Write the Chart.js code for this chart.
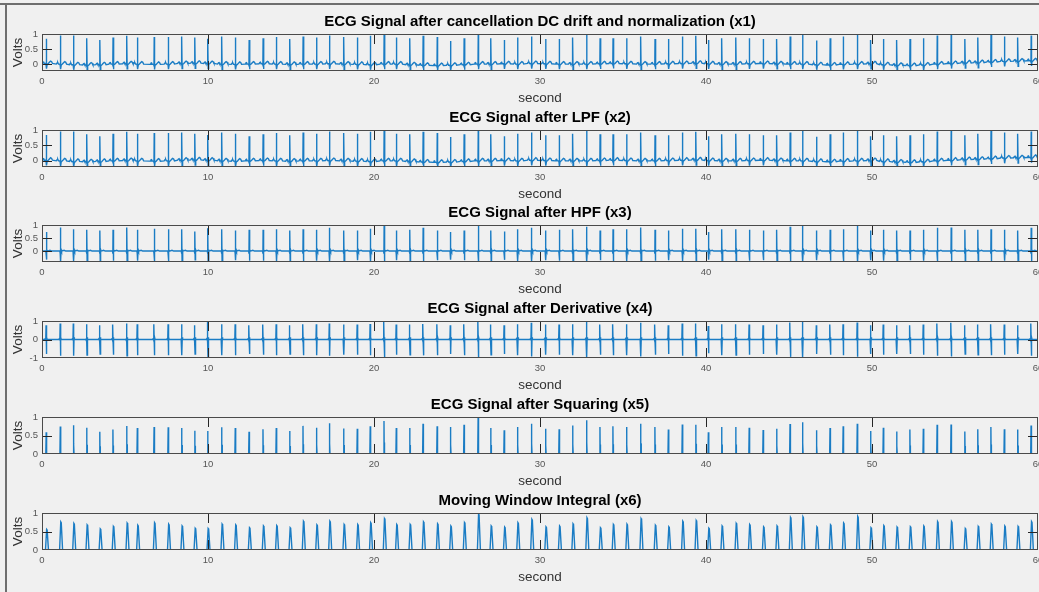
<!DOCTYPE html>
<html>
<head>
<meta charset="utf-8">
<title>ECG processing stages</title>
<script src="https://cdn.jsdelivr.net/npm/chart.js@4.4.1/dist/chart.umd.min.js"></script>
<style>
  html, body { margin: 0; padding: 0; width: 1039px; height: 592px; overflow: hidden; background: #f0f0f0; }
  .frame-top { position: absolute; left: 0; top: 3px; width: 1039px; height: 2px; background: #6e6e6e; }
  .frame-left { position: absolute; left: 5px; top: 3px; width: 2px; height: 589px; background: #6e6e6e; }
  canvas.panel { position: absolute; left: 0; }
</style>
</head>
<body>
<div class="frame-top"></div>
<div class="frame-left"></div>
<canvas id="p0" class="panel" width="1039" height="100"></canvas>
<canvas id="p1" class="panel" width="1039" height="100"></canvas>
<canvas id="p2" class="panel" width="1039" height="100"></canvas>
<canvas id="p3" class="panel" width="1039" height="100"></canvas>
<canvas id="p4" class="panel" width="1039" height="100"></canvas>
<canvas id="p5" class="panel" width="1039" height="100"></canvas>
<script>
// R-peak instants (s) of the 60 s recording
const beatTimes = [
  0.26, 1.11, 1.90, 2.70, 3.49, 4.28, 5.11, 5.75, 6.76, 7.61, 8.42, 9.21, 9.99, 10.83, 11.65, 12.48, 13.32, 14.12, 14.93,
  15.73, 16.54, 17.32, 18.18, 19.00, 19.78, 20.61, 21.35, 22.16, 22.96, 23.81, 24.61, 25.43, 26.28, 27.04, 27.85, 28.65, 29.49,
  30.34, 31.16, 31.97, 32.81, 33.62, 34.40, 35.22, 36.07, 36.93, 37.74, 38.58, 39.39, 40.15, 40.95, 41.80, 42.61, 43.45, 44.26, 45.07,
  45.82, 46.66, 47.48, 48.27, 49.12, 49.92, 50.69, 51.49, 52.29, 53.10, 53.93, 54.77, 55.60, 56.38, 57.17, 57.98, 58.78, 59.59
];

// R amplitude after DC removal + normalization (x1); the LPF output (x2) keeps the same peaks
const rPeakX1 = [
  0.84, 0.95, 0.95, 0.86, 0.80, 0.88, 0.94, 0.88, 0.90, 0.90, 0.92, 0.88, 0.84, 0.92, 0.88, 0.80, 0.86, 0.90, 0.83,
  0.92, 0.88, 0.95, 0.90, 0.88, 0.94, 0.98, 0.88, 0.86, 0.94, 0.90, 0.77, 0.86, 0.98, 0.86, 0.80, 0.88, 0.92,
  0.83, 0.83, 0.88, 0.98, 0.86, 0.86, 0.86, 0.92, 0.83, 0.83, 0.92, 0.94, 0.80, 0.86, 0.88, 0.86, 0.83, 0.83, 0.92,
  0.98, 0.78, 0.86, 0.92, 0.98, 0.80, 0.83, 0.80, 0.83, 0.86, 0.95, 0.98, 0.83, 0.88, 0.98, 0.92, 0.88, 0.95
];

// residual baseline level around each beat (x1 / x2)
const baselineX1 = [
  0.02, 0.00, -0.02, -0.03, -0.02, 0.00, 0.01, 0.00, -0.01, 0.00,
  0.02, 0.03, 0.02, 0.00, -0.01, 0.00, 0.01, 0.00, -0.01, 0.00,
  0.00, 0.01, 0.00, -0.01, -0.02, 0.00, 0.00, -0.02, -0.04, -0.05,
  -0.04, -0.02, 0.00, 0.00, 0.01, 0.00, 0.02, 0.01, 0.00, 0.00,
  0.00, 0.01, 0.02, 0.01, 0.00, 0.00, 0.01, 0.02, 0.03, 0.01,
  0.00, 0.00, 0.01, 0.02, 0.01, 0.00, 0.00, -0.02, -0.03, -0.01,
  0.00, 0.01, -0.02, -0.04, -0.05, -0.03, 0.00, 0.02, 0.04, 0.05,
  0.07, 0.09, 0.10, 0.11
];

// R amplitude after the high-pass stage (x3)
const rPeakX3 = [
  0.73, 0.90, 0.84, 0.82, 0.79, 0.82, 0.90, 0.82, 0.86, 0.84, 0.84, 0.75, 0.88, 0.84, 0.79, 0.82, 0.82, 0.84, 0.79,
  0.84, 0.82, 0.89, 0.79, 0.79, 0.86, 0.96, 0.79, 0.82, 0.89, 0.79, 0.73, 0.79, 1.00, 0.79, 0.75, 0.84, 0.89,
  0.79, 0.82, 0.84, 0.93, 0.79, 0.84, 0.84, 0.90, 0.82, 0.79, 0.86, 0.86, 0.73, 0.84, 0.84, 0.82, 0.79, 0.82, 0.93,
  0.96, 0.79, 0.82, 0.84, 0.96, 0.79, 0.82, 0.79, 0.79, 0.82, 0.89, 0.90, 0.82, 0.82, 0.84, 0.82, 0.79, 0.89
];

// slope extreme of each QRS after the derivative (x4)
const slopeX4 = [
  0.77, 0.86, 0.86, 0.83, 0.77, 0.81, 0.86, 0.83, 0.83, 0.83, 0.83, 0.77, 0.94, 0.83, 0.83, 0.77, 0.81, 0.83, 0.77,
  0.83, 0.83, 0.86, 0.81, 0.81, 0.84, 0.95, 0.81, 0.81, 0.84, 0.83, 0.77, 0.83, 1.00, 0.81, 0.77, 0.83, 0.90,
  0.81, 0.81, 0.83, 0.95, 0.81, 0.83, 0.83, 0.90, 0.81, 0.77, 0.86, 0.86, 0.73, 0.83, 0.83, 0.81, 0.77, 0.81, 0.92,
  0.95, 0.77, 0.81, 0.83, 0.92, 0.77, 0.81, 0.77, 0.77, 0.81, 0.86, 0.90, 0.77, 0.81, 0.83, 0.81, 0.77, 0.86
];

// peak of the squared signal (x5)
const peakX5 = [
  0.59, 0.74, 0.78, 0.71, 0.60, 0.66, 0.76, 0.70, 0.73, 0.72, 0.70, 0.63, 0.62, 0.72, 0.70, 0.60, 0.67, 0.70, 0.62,
  0.76, 0.71, 0.83, 0.69, 0.68, 0.75, 0.89, 0.70, 0.70, 0.82, 0.75, 0.73, 0.79, 0.99, 0.70, 0.64, 0.73, 0.82,
  0.68, 0.67, 0.77, 0.91, 0.73, 0.75, 0.73, 0.82, 0.73, 0.66, 0.80, 0.79, 0.59, 0.73, 0.73, 0.71, 0.65, 0.68, 0.81,
  0.86, 0.64, 0.70, 0.75, 0.82, 0.62, 0.71, 0.61, 0.66, 0.68, 0.79, 0.80, 0.61, 0.67, 0.73, 0.67, 0.66, 0.77
];

// peak of the moving-window integral (x6)
const peakX6 = [
  0.56, 0.76, 0.72, 0.68, 0.57, 0.64, 0.73, 0.67, 0.74, 0.70, 0.65, 0.59, 0.58, 0.70, 0.68, 0.60, 0.65, 0.66, 0.60,
  0.78, 0.68, 0.78, 0.69, 0.69, 0.74, 0.85, 0.69, 0.69, 0.76, 0.71, 0.65, 0.74, 0.98, 0.65, 0.62, 0.74, 0.83,
  0.63, 0.65, 0.71, 0.87, 0.60, 0.69, 0.70, 0.85, 0.67, 0.63, 0.78, 0.80, 0.59, 0.65, 0.72, 0.69, 0.63, 0.65, 0.88,
  0.90, 0.63, 0.68, 0.73, 0.91, 0.60, 0.66, 0.62, 0.63, 0.65, 0.77, 0.77, 0.58, 0.64, 0.70, 0.65, 0.64, 0.77
];

// beat shapes: [time offset (s), share of the beat's peak, fixed level (V)]
const shapeX1 = [[-0.25, 0, 0], [-0.2, 0, 0.04], [-0.16, 0, 0.05], [-0.12, 0, 0], [-0.04, 0, 0], [-0.015, 0, -0.04],
  [0, 1, 0], [0.02, 0, -0.17], [0.05, 0, -0.03], [0.12, 0, 0], [0.2, 0, 0.05], [0.26, 0, 0.08], [0.32, 0, 0.06], [0.37, 0, 0]];
const shapeX3 = [[-0.2, 0, 0], [-0.03, 0, 0], [-0.012, 0, -0.1], [0, 1, 0], [0.018, -0.45, 0], [0.04, 0, 0.06],
  [0.07, 0, 0], [0.22, 0, 0.03], [0.32, 0, 0]];
const shapeX4 = [[-0.1, 0, 0], [-0.05, 0, 0.06], [-0.035, 0, -0.05], [-0.015, 1, 0], [0, 0, -0.1], [0.012, -1.02, 0],
  [0.03, 0, 0.12], [0.05, 0, 0], [0.15, 0, 0]];
const shapeX5 = [[-0.03, 0, 0], [-0.008, 1, 0], [0.006, 0, 0.02], [0.016, 0.35, 0], [0.03, 0, 0]];
const shapeX6 = [[-0.05, 0, 0], [0.02, 1, 0], [0.05, 0.97, 0], [0.13, 0, 0]];

const panelTitles = [
  'ECG Signal after cancellation DC drift and normalization (x1)',
  'ECG Signal after LPF (x2)',
  'ECG Signal after HPF (x3)',
  'ECG Signal after Derivative (x4)',
  'ECG Signal after Squaring (x5)',
  'Moving Window Integral (x6)'
];
const xTicks = [0, 10, 20, 30, 40, 50, 60];
const yMins = [-0.23, -0.2, -0.42, -1, 0, 0];
const yMaxs = [1, 1, 1, 1, 1, 1];
const yTicks = [[0, 0.5, 1], [0, 0.5, 1], [0, 0.5, 1], [-1, 0, 1], [0, 0.5, 1], [0, 0.5, 1]];
const xLabel = 'second';
const yLabel = 'Volts';

function trace(shape, peaks, baseline) {
  const lvl = i => (baseline ? baseline[i] : 0);
  const pts = [{ x: 0, y: lvl(0) }];
  beatTimes.forEach((t, i) => {
    shape.forEach(([dt, k, c]) => {
      pts.push({ x: t + dt, y: k === 1 && c === 0 ? peaks[i] : lvl(i) + k * peaks[i] + c });
    });
  });
  pts.push({ x: 60, y: lvl(beatTimes.length - 1) });
  return pts;
}

const traces = [
  trace(shapeX1, rPeakX1, baselineX1),
  trace(shapeX1, rPeakX1, baselineX1),
  trace(shapeX3, rPeakX3, null),
  trace(shapeX4, slopeX4, null),
  trace(shapeX5, peakX5, null),
  trace(shapeX6, peakX6, null)
];

const FONT = '"Liberation Sans", Arial, Helvetica, sans-serif';
Chart.defaults.font.family = FONT;

// axes box with inward tick marks on all four sides
const axesBox = {
  id: 'axesBox',
  afterDatasetsDraw(chart) {
    const { ctx, chartArea: a, scales: { x, y } } = chart;
    const L = Math.round(a.left), R = Math.round(a.right), T = Math.round(a.top), B = Math.round(a.bottom);
    ctx.save();
    ctx.lineWidth = 1;
    ctx.strokeStyle = '#262626';
    ctx.beginPath();
    x.ticks.forEach(t => {
      const px = Math.round(x.getPixelForValue(t.value)) + 0.5;
      if (px > L + 2 && px < R - 2) {
        ctx.moveTo(px, T); ctx.lineTo(px, T + 10);
        ctx.moveTo(px, B); ctx.lineTo(px, B - 10);
      }
    });
    y.ticks.forEach(t => {
      const py = Math.round(y.getPixelForValue(t.value)) + 0.5;
      if (py > T + 2 && py < B - 2) {
        ctx.moveTo(L, py); ctx.lineTo(L + 10, py);
        ctx.moveTo(R, py); ctx.lineTo(R - 10, py);
      }
    });
    ctx.stroke();
    ctx.strokeStyle = '#4a4a4a';
    ctx.strokeRect(L + 0.5, T + 0.5, R - L - 1, B - T - 1);
    ctx.restore();
  }
};

const boxTops = [34, 130, 225, 321, 417, 513];

panelTitles.forEach((title, i) => {
  const cv = document.getElementById('p' + i);
  cv.style.top = (boxTops[i] - 26) + 'px';
  new Chart(cv, {
    type: 'line',
    data: {
      datasets: [{
        data: traces[i],
        borderColor: '#1a7cc4',
        borderWidth: 1.4,
        pointRadius: 0,
        tension: 0,
        fill: false
      }]
    },
    options: {
      responsive: false,
      animation: false,
      devicePixelRatio: 1,
      layout: { padding: { left: 0, right: 1, top: 0, bottom: 0 } },
      plugins: {
        legend: { display: false },
        tooltip: { enabled: false },
        title: {
          display: true,
          text: title,
          fullSize: false,
          color: '#000000',
          font: { size: 15, weight: 'bold', family: FONT },
          padding: { top: 4.5, bottom: 3.5 }
        }
      },
      scales: {
        x: {
          type: 'linear',
          min: 0,
          max: 60,
          grid: { display: false, drawTicks: false },
          border: { display: false },
          afterBuildTicks: s => { s.ticks = xTicks.map(v => ({ value: v })); },
          afterFit: s => { s.height = 37; s.paddingLeft = 0; s.paddingRight = 0; },
          ticks: { color: '#555555', font: { size: 9.5, family: FONT }, padding: 5, maxRotation: 0, autoSkip: false },
          title: { display: true, text: xLabel, color: '#333333', font: { size: 13.5, family: FONT }, padding: { top: 0, bottom: 1.5 } }
        },
        y: {
          type: 'linear',
          min: yMins[i],
          max: yMaxs[i],
          grid: { display: false, drawTicks: false },
          border: { display: false },
          afterBuildTicks: s => { s.ticks = yTicks[i].map(v => ({ value: v })); },
          afterFit: s => { s.width = 42; s.paddingTop = 0; s.paddingBottom = 0; },
          ticks: { color: '#555555', font: { size: 9.5, family: FONT }, padding: 4, autoSkip: false, callback: v => String(v) },
          title: { display: true, text: yLabel, color: '#333333', font: { size: 13.5, family: FONT }, padding: { top: 10.4, bottom: 0 } }
        }
      }
    },
    plugins: [axesBox]
  });
});
</script>
</body>
</html>
